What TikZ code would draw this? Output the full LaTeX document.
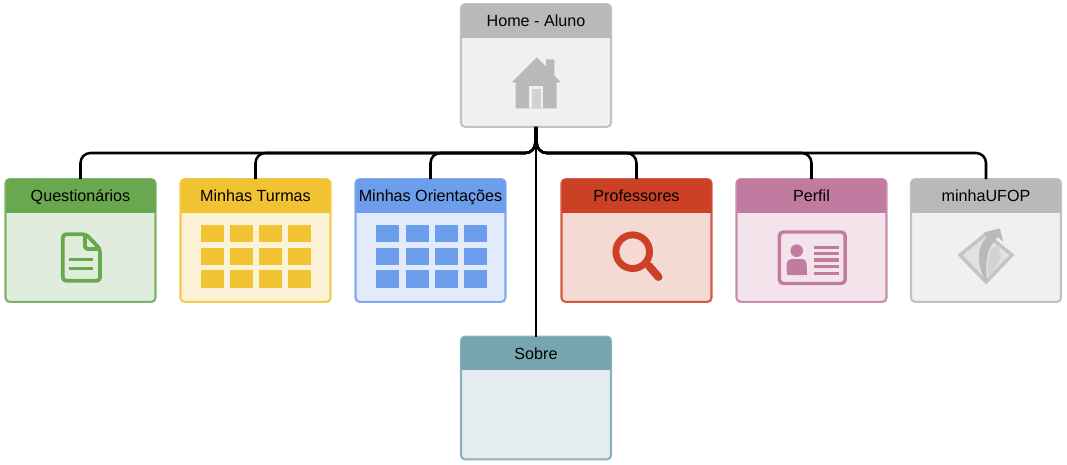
\documentclass[tikz,border=0pt]{standalone}
\usepackage{fontspec}
\setmainfont{Liberation Sans}
\definecolor{ghead}{HTML}{6AA84F}\definecolor{gfill}{HTML}{E1EDDC}
\definecolor{yhead}{HTML}{F1C232}\definecolor{yfill}{HTML}{FCF3D6}
\definecolor{bhead}{HTML}{6D9EEB}\definecolor{bfill}{HTML}{E2EBFB}
\definecolor{rhead}{HTML}{CC4125}\definecolor{rfill}{HTML}{F5D9D3}
\definecolor{phead}{HTML}{C27BA0}\definecolor{pfill}{HTML}{F3E4EC}
\definecolor{ahead}{HTML}{B9B9B9}\definecolor{afill}{HTML}{F0F0F0}
\definecolor{thead}{HTML}{76A5AF}\definecolor{tfill}{HTML}{E4ECEF}
\tikzset{
  x=0.75pt,y=-0.75pt,
  cardbox/.style={minimum width=112.5pt,minimum height=92pt,inner sep=0pt,outer sep=0pt},
  cardedge/.style={draw=#1,draw opacity=0.85,line width=1.6pt,rounded corners=3pt},
  cardtitle/.style={font=\fontsize{12.1}{14}\selectfont,text=black,inner sep=0pt,anchor=base},
  conn/.style={draw=black,line width=1.9pt,rounded corners=7.5pt},
}
\newcommand{\card}[5]{%
  \node[cardbox] (#1) at (#2,#3) {};
  \begin{scope}
    \clip[rounded corners=3pt] (#1.north west) rectangle (#1.south east);
    \fill[#5fill] (#1.north west) rectangle (#1.south east);
    \fill[#5head] (#1.north west) rectangle ([yshift=-25pt]#1.north east);
  \end{scope}
  \draw[cardedge=#5head] (#1.north west) rectangle (#1.south east);
  \node[cardtitle] (#1t) at ([yshift=-17pt]#1.north) {#4};
}
\begin{document}
\begin{tikzpicture}
\useasboundingbox (0,0) rectangle (1067,464);
\fill[white] (0,0) rectangle (1067,464);
\coordinate (bus) at (536,153);
\card{home}{536}{65.5}{Home - Aluno}{a}
\card{q}{80.5}{240.5}{Questionários}{g}
\card{mt}{255.5}{240.5}{Minhas Turmas}{y}
\card{mo}{430.5}{240.5}{Minhas Orientações}{b}
\card{prof}{636.5}{240.5}{Professores}{r}
\card{perf}{811.5}{240.5}{Perfil}{p}
\card{mu}{986}{240.5}{minhaUFOP}{a}
\card{sob}{536}{398}{Sobre}{t}
\coordinate (hl) at ([xshift=-0.5pt]home.south);
\coordinate (hr) at ([xshift=0.5pt]home.south);
\foreach \n in {q,mt,mo}{
  \draw[conn] (hl) -- (hl |- bus) -- (\n.north |- bus) -- (\n.north);
}
\foreach \n in {prof,perf,mu}{
  \draw[conn] (hr) -- (hr |- bus) -- (\n.north |- bus) -- (\n.north);
}
\draw[draw=black,line width=1.7pt] (home.south) -- (sob.north);
% home icon
\fill[ahead] (536.7,57.3) -- (546,66.5) -- (546,59.3) -- (554.3,59.3) -- (554.3,75.5) -- (561,82.3) -- (556.7,82.3) -- (556.7,108.3) -- (515.7,108.3) -- (515.7,82.3) -- (511.7,82.3) -- cycle;
\fill[afill] (529.3,86) rectangle (543.3,108.3);
\fill[ahead!55!afill] (532,89.3) rectangle (540.7,108.3);
% document icon
\draw[ghead,line width=2.9pt,line join=round,rounded corners=2.5pt] (75,234.3) -- (86,234.3) -- (100,249) -- (100,280.7) -- (62.8,280.7) -- (62.8,234.3) -- cycle;
\draw[ghead,line width=2.9pt,line join=round,rounded corners=2pt] (85,234.3) -- (85,249) -- (100,249);
\draw[ghead,line width=2.7pt] (69,259.5) -- (93.3,259.5) (69,268.3) -- (93.3,268.3);
% grids
\foreach \xx in {201,230.3,259.3,288.3}{\foreach \yy in {224.7,247.7,270.3}{
  \fill[yhead] (\xx,\yy) rectangle (\xx+23,\yy+17.5);
  \fill[bhead] (\xx+175.3,\yy) rectangle (\xx+198.3,\yy+17.5);
}}
% search icon
\draw[rhead,line width=5.2pt] (632.7,251.7) circle[radius=16.8];
\draw[rhead,line width=6pt,line cap=round] (649,266) -- (658.5,277);
% id card icon
\draw[phead,line width=2.6pt,rounded corners=3pt] (779.4,232) rectangle (845.2,283.5);
\fill[phead] (796.7,250.7) circle[radius=6.3];
\fill[phead,rounded corners=3.5pt] (786.7,259) rectangle (806.7,275);
\fill[phead] (786.7,267) rectangle (806.7,275);
\foreach \yy in {247.3,253.7,260,266.7,273.2}{\fill[phead] (814.3,\yy-1.7) rectangle (839.3,\yy+1.7);}
% minhaUFOP icon
\draw[ahead!80!afill,fill=afill!72!ahead,line width=2.6pt,line join=miter] (986,234) -- (1012,255) -- (986,282) -- (960,255) -- cycle;
\fill[ahead!55!afill] (988,277) .. controls (995,268) and (1001,260) .. (1001,254) -- (999,252) -- (1000,246) -- (992,248) .. controls (989,252) and (987,262) .. (988,277) -- cycle;
\fill[ahead] (986,282) .. controls (978,268) and (975,248) .. (987,236.7) -- (983.3,232.7) -- (1000,228.3) -- (1003,241.7) -- (998,237) -- (993.5,242) .. controls (987,250) and (985,262) .. (987,281) -- cycle;
\end{tikzpicture}
\end{document}
